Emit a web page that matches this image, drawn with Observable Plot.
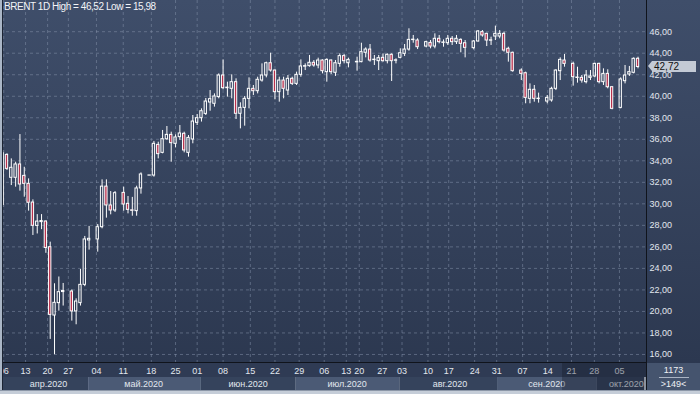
<!DOCTYPE html>
<html><head><meta charset="utf-8">
<script src="https://cdn.jsdelivr.net/npm/d3@7"></script>
<script src="https://cdn.jsdelivr.net/npm/@observablehq/plot@0.6"></script>
<style>
html,body{margin:0;padding:0;background:#c9d1dc;}
#wrap{position:relative;width:700px;height:394px;overflow:hidden;font-family:"Liberation Sans",Arial,sans-serif;background:#c9d1dc;}
#bg{position:absolute;left:0;top:0;width:700px;height:363px;background:linear-gradient(#3f4e6a,#2c3850);}
#daterow{position:absolute;left:0;top:363px;width:646px;height:14px;background:#2f3b54;}
#main,#months{position:absolute;left:0;}
#main{top:0}
#months{top:377px}
#title{position:absolute;left:4px;top:1px;font-size:10px;color:#f2f4f7;letter-spacing:-0.45px;white-space:nowrap;}
#vsep{position:absolute;left:646px;top:0;width:1px;height:390px;background:#10141c;}
#hsep{position:absolute;left:0;top:362px;width:646px;height:1px;background:#10141c;}
#lb{position:absolute;left:0;top:0;width:2px;height:394px;background:#aab6c6;}
#lb2{position:absolute;left:2px;top:0;width:1px;height:390px;background:#1c2433;}
#bot{position:absolute;left:0;top:390px;width:700px;height:4px;background:#c5cdd8;border-top:1px solid #8c97a8;}
#shade{position:absolute;left:562px;top:363px;width:84px;height:27px;background:rgba(20,26,40,0.35);}
#box{position:absolute;left:647px;top:363px;width:53px;height:27px;background:#45546e;color:#eef1f5;font-size:9px;text-align:center;}
#box .a{position:absolute;left:0;width:53px;top:2px;}
#box .l{position:absolute;left:12px;width:30px;top:14px;height:1px;background:#aab4c4;}
#box .b{position:absolute;left:0;width:53px;top:16px;}
#tag{position:absolute;left:652px;width:44px;height:11px;background:#c3cad5;color:#111;font-size:10px;line-height:11px;padding-left:2px;box-sizing:border-box;}
#arrow{position:absolute;left:648px;width:0;height:0;border-top:5.5px solid transparent;border-bottom:5.5px solid transparent;border-right:4px solid #c3cad5;}
</style></head><body>
<div id="wrap">
  <div id="bg"></div>
  <div id="daterow"></div>
</div>
<script>
// ---- data; one slot per bar position, null = empty slot
const open = [29.9,34.55,32.42,32.42,33.66,32.6,31.86,30.12,27.95,28.3,28.36,25.97,19.62,20.77,21.8,null,
21.85,20.0,20.77,22.47,26.6,null,26.69,27.83,31.6,29.85,29.38,null,31.02,30.0,29.4,29.32,31.43,null,
32.62,32.63,35.48,34.74,36.0,36.41,35.58,36.2,36.51,34.74,35.98,37.53,37.96,38.36,39.42,39.30,
39.92,41.93,40.75,40.69,41.31,38.37,38.92,39.76,40.69,40.47,41.46,41.93,43.07,42.39,40.38,41.46,
40.53,41.62,41.15,41.99,42.75,42.80,43.11,42.86,43.32,42.24,43.32,42.18,43.01,43.73,43.07,null,
43.15,43.17,44.04,44.34,43.36,43.26,43.57,43.26,43.85,43.30,43.57,43.94,44.34,45.22,45.18,null,
44.62,44.96,44.62,45.34,44.96,44.93,45.34,45.03,45.24,44.93,null,44.47,45.09,45.96,45.80,45.16,
45.55,45.55,45.80,44.41,44.04,null,42.39,42.14,39.76,40.60,39.74,null,39.51,39.61,40.69,42.33,
43.32,null,43.01,41.70,41.71,41.31,41.71,41.84,43.01,41.31,42.08,40.84,null,38.92,41.40,42.02,42.18,43.48];
const high = [34.96,34.65,34.18,33.87,36.44,33.4,32.32,30.37,29.0,29.0,28.4,26.44,22.57,23.2,22.6,null,
22.0,21.17,23.9,26.97,27.9,null,28.08,32.23,32.23,31.14,31.14,null,31.55,30.68,30.6,31.64,32.88,null,
32.64,35.8,35.73,36.82,37.19,36.66,36.41,37.28,36.66,36.35,38.21,38.3,38.83,39.79,40.53,40.22,
42.08,43.38,41.31,41.99,41.62,39.39,39.98,41.71,41.00,41.77,43.01,43.17,44.00,42.45,41.77,41.77,
41.93,41.77,42.24,43.38,43.01,43.79,43.32,43.54,43.38,43.48,43.38,43.32,43.94,43.88,43.54,null,
43.63,44.93,44.50,44.81,43.79,43.79,43.94,43.94,43.94,43.48,44.41,44.81,46.27,45.65,45.34,null,
45.12,45.18,45.80,45.65,45.24,45.65,45.55,45.65,45.34,45.18,null,45.18,46.11,46.11,45.86,45.49,
46.52,46.11,45.96,44.56,44.10,null,42.55,42.24,41.15,41.00,40.29,null,40.07,40.84,42.46,43.57,
43.88,null,43.17,42.70,41.93,42.39,42.39,43.07,43.07,42.55,42.46,40.91,null,41.71,42.86,42.77,43.57,43.63];
const low = [29.66,33.1,31.7,31.55,31.18,30.62,29.32,27.06,27.2,27.6,25.4,17.4,15.98,20.03,20.5,null,
19.1,18.76,20.5,22.3,25.7,null,25.51,27.68,28.67,28.98,29.2,null,29.32,29.07,28.85,28.85,30.9,null,
32.62,32.48,34.18,34.65,35.9,33.87,35.2,35.9,34.74,34.34,35.58,37.28,37.6,38.21,38.61,38.99,
39.76,40.6,39.92,39.76,37.84,36.97,37.22,38.83,40.07,40.22,41.31,41.71,42.24,39.67,39.45,39.76,
40.07,41.00,41.00,41.77,42.39,42.70,42.70,42.55,42.08,41.31,42.02,41.84,42.70,43.01,42.64,null,
42.33,43.11,43.57,43.17,42.86,42.39,43.17,43.01,41.37,43.01,43.48,43.69,44.19,44.93,44.34,null,
44.50,44.41,44.41,44.87,44.56,44.72,44.72,44.81,44.04,43.57,null,44.31,45.03,45.49,44.62,44.72,
45.18,45.34,44.10,43.17,42.24,null,41.46,39.30,39.30,39.45,39.36,null,39.30,39.45,40.53,41.46,
42.70,null,40.94,41.22,41.22,41.15,41.46,41.71,41.15,41.00,40.69,38.74,null,38.83,41.15,41.84,42.08,42.55];
const close = [34.7,33.25,33.35,33.66,31.8,31.86,30.1,27.96,28.35,28.4,25.9,19.68,20.8,21.79,21.9,null,
20.0,20.92,22.47,26.69,26.75,null,27.83,31.6,29.85,29.38,30.99,null,29.94,29.44,29.35,31.43,32.73,null,
32.64,35.58,34.62,36.01,36.41,35.64,36.17,36.54,34.96,36.13,37.65,37.96,38.61,39.51,39.73,39.98,
41.93,40.75,40.8,41.31,38.37,38.92,39.76,40.69,40.47,41.53,41.93,43.07,42.39,40.38,41.46,40.69,
41.62,41.15,41.99,42.77,42.80,43.11,42.86,43.32,42.33,43.38,42.24,43.07,43.73,43.26,43.38,null,
43.20,44.10,44.34,43.32,43.40,43.54,43.26,43.85,43.26,43.34,44.00,44.34,45.24,45.26,44.56,null,
45.03,44.62,45.34,45.03,45.00,45.34,45.03,45.34,44.87,44.50,null,45.09,46.02,45.65,45.18,45.20,
45.80,45.80,44.25,44.04,42.33,null,42.08,39.85,40.60,39.76,39.78,null,39.85,40.69,42.39,43.38,
43.01,null,41.77,41.74,41.46,41.93,41.84,43.01,41.31,42.08,40.84,38.83,null,41.56,41.93,42.24,43.48,42.72];

const tickSlots = [0.25,5.3,10.4,15.2,21.7,27.9,34.4,40.0,45.0,51.0,57.3,63.0,68.6,74.4,79.5,82.5,87.8,92.4,98.4,103.2,109.2,114.3,120.3,126.1,131.6,136.9,142.7];
const tickLabels = ["06","13","20","27","04","11","18","25","01","08","15","22","29","06","13","20","27","03","10","17","24","31","07","14","21","28","05"];
const monthNames = ["апр.2020","май.2020","июн.2020","июл.2020","авг.2020","сен.2020","окт.2020"];
const monthStart = [-0.5,19.9,45.96,67.9,91.9,114.5,137.6];
const monthEnd = [19.9,45.96,67.9,91.9,114.5,137.6,148.5];
const monthLabelAt = [10.6,32.6,56.8,79.7,103.5,125.9,144.3];
const yTicks = d3.range(16, 47, 2);
const titleText = "BRENT 1D High = 46,52 Low = 15,98";
const barCount = "1173", visibleBars = ">149<";

// ---- build
const candles = open.map((o, i) => o == null ? null : {slot: i, open: o, high: high[i], low: low[i], close: close[i]}).filter(Boolean);
const bull = candles.filter(d => d.close >= d.open);
const bear = candles.filter(d => d.close < d.open);
const labelMap = new Map(tickSlots.map((s, i) => [s, tickLabels[i]]));
const xOpts = {type: "linear", domain: [-0.5, 148.5], range: [0, 644]};
const font = "Liberation Sans, Arial, sans-serif";
const fmt = d => d.toFixed(2).replace(".", ",");

const chart = Plot.plot({
  width: 700, height: 377,
  marginLeft: 0, marginRight: 54, marginTop: 0, marginBottom: 14,
  style: {background: "transparent", fontFamily: font, fontSize: "9px", color: "#e4e8ee"},
  x: xOpts,
  y: {domain: [15.16, 48.9]},
  marks: [
    Plot.gridY(yTicks, {stroke: "#8896ad", strokeOpacity: 0.5, strokeDasharray: "3,3"}),
    Plot.gridX(tickSlots, {stroke: "#8896ad", strokeOpacity: 0.5, strokeDasharray: "3,3"}),
    Plot.ruleX(candles, {x: "slot", y1: "high", y2: d => Math.max(d.open, d.close), stroke: "#ffffff"}),
    Plot.ruleX(candles, {x: "slot", y1: "low", y2: d => Math.min(d.open, d.close), stroke: "#ffffff"}),
    Plot.rect(bear, {x1: d => d.slot - 0.5, x2: d => d.slot + 0.5, insetLeft: 1, insetRight: 1, y1: "open", y2: "close", fill: "#b8304c", stroke: "#ffffff", strokeWidth: 1}),
    Plot.rect(bull, {x1: d => d.slot - 0.5, x2: d => d.slot + 0.5, insetLeft: 1, insetRight: 1, y1: "open", y2: "close", fill: "none", stroke: "#ffffff", strokeWidth: 1}),
    Plot.axisY(yTicks, {anchor: "right", tickSize: 0, tickPadding: 3, tickFormat: fmt, fill: "#e2e7ee", fontSize: 9, label: null}),
    Plot.axisX(tickSlots, {anchor: "bottom", tickSize: 0, tickPadding: 4.5, tickFormat: d => labelMap.get(d), fill: "#e2e7ee", fontSize: 9, label: null})
  ]
});
chart.id = "main";

const months = monthNames.map((m, i) => ({name: m, x1: monthStart[i], x2: monthEnd[i], at: monthLabelAt[i], shade: i % 2}));
const monthPlot = Plot.plot({
  width: 700, height: 13, marginLeft: 0, marginRight: 54, marginTop: 0, marginBottom: 0,
  style: {background: "transparent", fontFamily: font, fontSize: "9px"},
  x: {...xOpts, axis: null},
  y: {domain: [0, 1], axis: null},
  marks: [
    Plot.rect(months, {x1: "x1", x2: "x2", y1: 0, y2: 1, fill: d => d.shade ? "#4b5a75" : "#35435c"}),
    Plot.text(months, {x: "at", y: 0.5, text: "name", fill: "#e2e7ee", fontSize: 9})
  ]
});
monthPlot.id = "months";

const wrap = document.getElementById("wrap");
wrap.appendChild(chart);
wrap.appendChild(monthPlot);

const add = (id) => { const d = document.createElement("div"); d.id = id; wrap.appendChild(d); return d; };
add("title").textContent = titleText;
add("shade");
add("hsep");
add("vsep");
add("lb");
add("lb2");
add("bot");
const box = add("box");
box.innerHTML = `<div class="a">${barCount}</div><div class="l"></div><div class="b">${visibleBars.replace("<","&lt;").replace(">","&gt;")}</div>`;

const last = candles[candles.length - 1].close;
const yPix = chart.scale("y").apply(last);
const tag = add("tag");
tag.textContent = fmt(last);
tag.style.top = (yPix - 5.5) + "px";
const arrow = add("arrow");
arrow.style.top = (yPix - 5.5) + "px";
</script>
</body></html>
